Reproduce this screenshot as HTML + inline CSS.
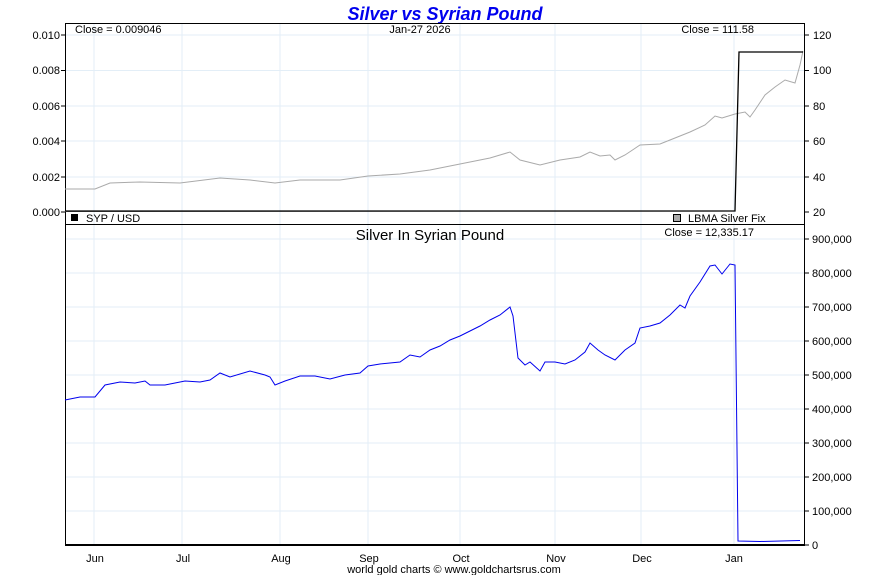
<!DOCTYPE html>
<html><head><meta charset="utf-8"><style>
body{margin:0;background:#fff;}
svg text{font-family:"Liberation Sans",sans-serif;}
</style></head><body>
<svg width="890" height="575" viewBox="0 0 890 575">
<rect width="890" height="575" fill="#fff"/>
<text x="445" y="20" text-anchor="middle" font-size="18" font-weight="bold" font-style="italic" fill="#0000ee">Silver vs Syrian Pound</text>
<g stroke="#e3eef7" stroke-width="1">
<line x1="94" y1="23" x2="94" y2="545"/><line x1="182" y1="23" x2="182" y2="545"/><line x1="280" y1="23" x2="280" y2="545"/><line x1="368" y1="23" x2="368" y2="545"/><line x1="460" y1="23" x2="460" y2="545"/><line x1="555" y1="23" x2="555" y2="545"/><line x1="641" y1="23" x2="641" y2="545"/><line x1="734" y1="23" x2="734" y2="545"/>
<line x1="65" y1="35" x2="805" y2="35"/><line x1="65" y1="70.5" x2="805" y2="70.5"/><line x1="65" y1="106" x2="805" y2="106"/><line x1="65" y1="141" x2="805" y2="141"/><line x1="65" y1="177" x2="805" y2="177"/>
<line x1="65" y1="239" x2="805" y2="239"/><line x1="65" y1="273" x2="805" y2="273"/><line x1="65" y1="307" x2="805" y2="307"/><line x1="65" y1="341" x2="805" y2="341"/><line x1="65" y1="375" x2="805" y2="375"/><line x1="65" y1="409" x2="805" y2="409"/><line x1="65" y1="443" x2="805" y2="443"/><line x1="65" y1="477" x2="805" y2="477"/><line x1="65" y1="511" x2="805" y2="511"/>
</g>
<rect x="65.5" y="23.5" width="739" height="521" fill="none" stroke="#000"/>
<line x1="65" y1="224.5" x2="805" y2="224.5" stroke="#000"/>
<line x1="65" y1="545" x2="805" y2="545" stroke="#000" stroke-width="2"/>
<polyline fill="none" stroke="#aaa" stroke-width="1" points="65,189 95,189 110,183 140,182 180,183 220,178 250,180 275,183 300,180 340,180 368,176 400,174 430,170 460,164 490,158 510,152 520,160 540,165 560,160 580,157 590,152 600,156 610,155 615,160 625,155 640,145 660,144 670,140 690,132 705,125 715,116 722,118 735,114 745,112 750,117 755,110 765,95 775,87 785,80 795,83 800,65 803,51"/>
<polyline fill="none" stroke="#666" stroke-width="1" points="65,211.5 735,211"/>
<polyline fill="none" stroke="#000" stroke-width="1.3" points="65,211 735,211 739,52 803,52"/>
<polyline fill="none" stroke="#0000ee" stroke-width="1" points="65,400 80,397 95,397 105,385 120,382 135,383 145,381 150,385 165,385 175,383 185,381 200,382 210,380 220,373 230,377 250,371 265,375 270,377 275,385 285,381 300,376 315,376 330,379 345,375 360,373 368,366 380,364 400,362 410,355 420,357 430,350 440,346 450,340 460,336 470,331 480,326 490,320 500,315 510,307 513,316 518,358 525,365 530,362 540,371 545,362 555,362 565,364 575,360 585,352 590,343 598,350 605,355 615,360 625,350 635,343 640,328 650,326 660,323 670,315 680,305 685,308 690,296 700,282 710,266 715,265 722,274 730,264 735,265 738,541 760,541.5 800,540.5"/>
<g font-size="11" fill="#000">
<text x="75" y="33">Close = 0.009046</text>
<text x="420" y="33" text-anchor="middle">Jan-27  2026</text>
<text x="754" y="33" text-anchor="end">Close = 111.58</text>
<rect x="71" y="214" width="7" height="7" fill="#000"/><text x="86" y="222">SYP / USD</text>
<rect x="673.5" y="214.5" width="7" height="7" fill="#aaa" stroke="#000"/><text x="688" y="222">LBMA Silver Fix</text>
<text x="754" y="236" text-anchor="end">Close = 12,335.17</text>
<text x="430" y="240" text-anchor="middle" font-size="15">Silver In Syrian Pound</text>
</g>
<g font-size="11" fill="#000" text-anchor="end">
<text x="60" y="39">0.010</text><text x="60" y="74">0.008</text><text x="60" y="110">0.006</text><text x="60" y="145">0.004</text><text x="60" y="181">0.002</text><text x="60" y="216">0.000</text>
</g>
<g stroke="#000"><line x1="61" y1="35" x2="65" y2="35"/><line x1="61" y1="70.5" x2="65" y2="70.5"/><line x1="61" y1="106" x2="65" y2="106"/><line x1="61" y1="141" x2="65" y2="141"/><line x1="61" y1="177" x2="65" y2="177"/><line x1="61" y1="212" x2="65" y2="212"/>
<line x1="805" y1="35" x2="809" y2="35"/><line x1="805" y1="70.5" x2="809" y2="70.5"/><line x1="805" y1="106" x2="809" y2="106"/><line x1="805" y1="141" x2="809" y2="141"/><line x1="805" y1="177" x2="809" y2="177"/><line x1="805" y1="212" x2="809" y2="212"/>
<line x1="805" y1="239" x2="809" y2="239"/><line x1="805" y1="273" x2="809" y2="273"/><line x1="805" y1="307" x2="809" y2="307"/><line x1="805" y1="341" x2="809" y2="341"/><line x1="805" y1="375" x2="809" y2="375"/><line x1="805" y1="409" x2="809" y2="409"/><line x1="805" y1="443" x2="809" y2="443"/><line x1="805" y1="477" x2="809" y2="477"/><line x1="805" y1="511" x2="809" y2="511"/><line x1="805" y1="545" x2="809" y2="545"/>
</g>
<g font-size="11" fill="#000">
<text x="813" y="39">120</text><text x="813" y="74">100</text><text x="813" y="110">80</text><text x="813" y="145">60</text><text x="813" y="181">40</text><text x="813" y="216">20</text>
<text x="812" y="243">900,000</text><text x="812" y="277">800,000</text><text x="812" y="311">700,000</text><text x="812" y="345">600,000</text><text x="812" y="379">500,000</text><text x="812" y="413">400,000</text><text x="812" y="447">300,000</text><text x="812" y="481">200,000</text><text x="812" y="515">100,000</text><text x="812" y="549">0</text>
</g>
<g font-size="11" fill="#000" text-anchor="middle">
<text x="95" y="562">Jun</text><text x="183" y="562">Jul</text><text x="281" y="562">Aug</text><text x="369" y="562">Sep</text><text x="461" y="562">Oct</text><text x="556" y="562">Nov</text><text x="642" y="562">Dec</text><text x="734" y="562">Jan</text>
<text x="454" y="573">world gold charts © www.goldchartsrus.com</text>
</g>
</svg>
</body></html>
